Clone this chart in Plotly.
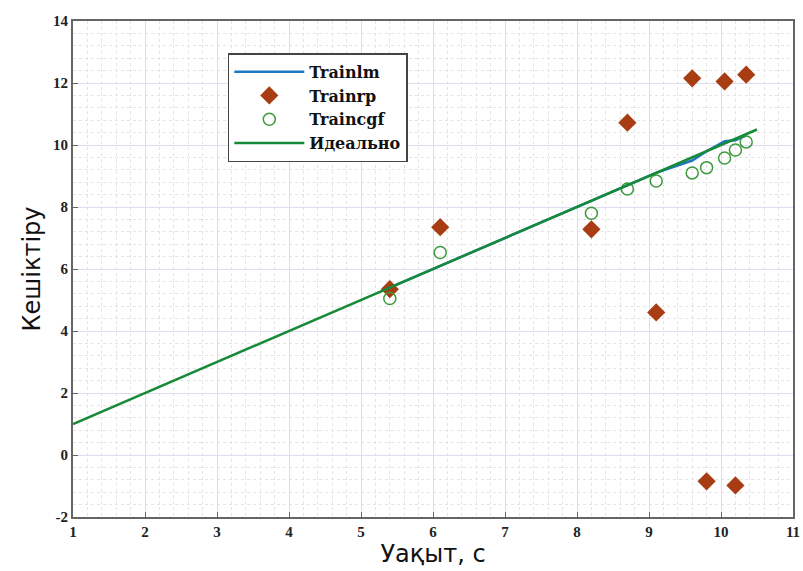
import plotly.graph_objects as go

x_pts = [5.4, 6.1, 8.2, 8.7, 9.1, 9.6, 9.8, 10.05, 10.2, 10.35]
trainlm = [5.4, 6.1, 8.2, 8.7, 9.1, 9.5, 9.8, 10.12, 10.15, 10.3]
trainrp = [5.35, 7.35, 7.28, 10.72, 4.6, 12.15, -0.85, 12.05, -0.98, 12.27]
traincgf = [5.05, 6.53, 7.8, 8.58, 8.84, 9.1, 9.27, 9.58, 9.84, 10.1]
ideal_x = [1, 10.5]
ideal_y = [1, 10.5]

x_ticks = [1, 2, 3, 4, 5, 6, 7, 8, 9, 10, 11]
y_ticks = [-2, 0, 2, 4, 6, 8, 10, 12, 14]

fig = go.Figure()
fig.add_trace(go.Scatter(x=x_pts, y=trainlm, mode='lines', name='Trainlm',
                         line=dict(color='#1f77c0', width=2.5)))
fig.add_trace(go.Scatter(x=x_pts, y=trainrp, mode='markers', name='Trainrp',
                         marker=dict(symbol='diamond', size=14, color='#a83c12',
                                     line=dict(width=0))))
fig.add_trace(go.Scatter(x=x_pts, y=traincgf, mode='markers', name='Traincgf',
                         marker=dict(symbol='circle-open', size=12, color='#3d9a3d',
                                     line=dict(width=1.5, color='#3d9a3d'))))
fig.add_trace(go.Scatter(x=ideal_x, y=ideal_y, mode='lines', name='Идеально',
                         line=dict(color='#178a3a', width=2.5)))

tickfont = dict(family='Liberation Serif', size=15, color='#222', weight='bold')
fig.update_layout(
    width=803, height=571,
    margin=dict(l=73, r=10, t=21, b=54),
    paper_bgcolor='white', plot_bgcolor='white',
    showlegend=True,
    legend=dict(x=0.215, y=0.935, xanchor='left', yanchor='top',
                bgcolor='white', bordercolor='#444', borderwidth=1.5,
                font=dict(family='DejaVu Serif', size=16, color='#111', weight='bold'),
                tracegroupgap=0, itemwidth=70),
    xaxis=dict(range=[1, 11], tickvals=x_ticks, ticktext=[str(v) for v in x_ticks],
               tickfont=tickfont, showline=True, linecolor='#666', linewidth=2,
               mirror=True, ticks='inside', ticklen=5, tickcolor='#666',
               showgrid=True, gridcolor='#dcdcf2', gridwidth=1, zeroline=False,
               automargin=False,
               minor=dict(dtick=0.2, showgrid=True, gridcolor='#e4e4e4',
                          griddash='dot', gridwidth=1),
               title=dict(text='Уақыт, с', font=dict(family='DejaVu Sans', size=24, color='#111'),
                          standoff=0)),
    yaxis=dict(range=[-2, 14], tickvals=y_ticks, ticktext=[str(v) for v in y_ticks],
               tickfont=tickfont, showline=True, linecolor='#666', linewidth=2,
               mirror=True, ticks='inside', ticklen=5, tickcolor='#666',
               showgrid=True, gridcolor='#dcdcf2', gridwidth=1, zeroline=False,
               automargin=False,
               minor=dict(dtick=0.4, showgrid=True, gridcolor='#e4e4e4',
                          griddash='dot', gridwidth=1),
               title=dict(text='Кешіктіру', font=dict(family='DejaVu Sans', size=24, color='#111'),
                          standoff=6)),
)
fig.write_html("out.html")
